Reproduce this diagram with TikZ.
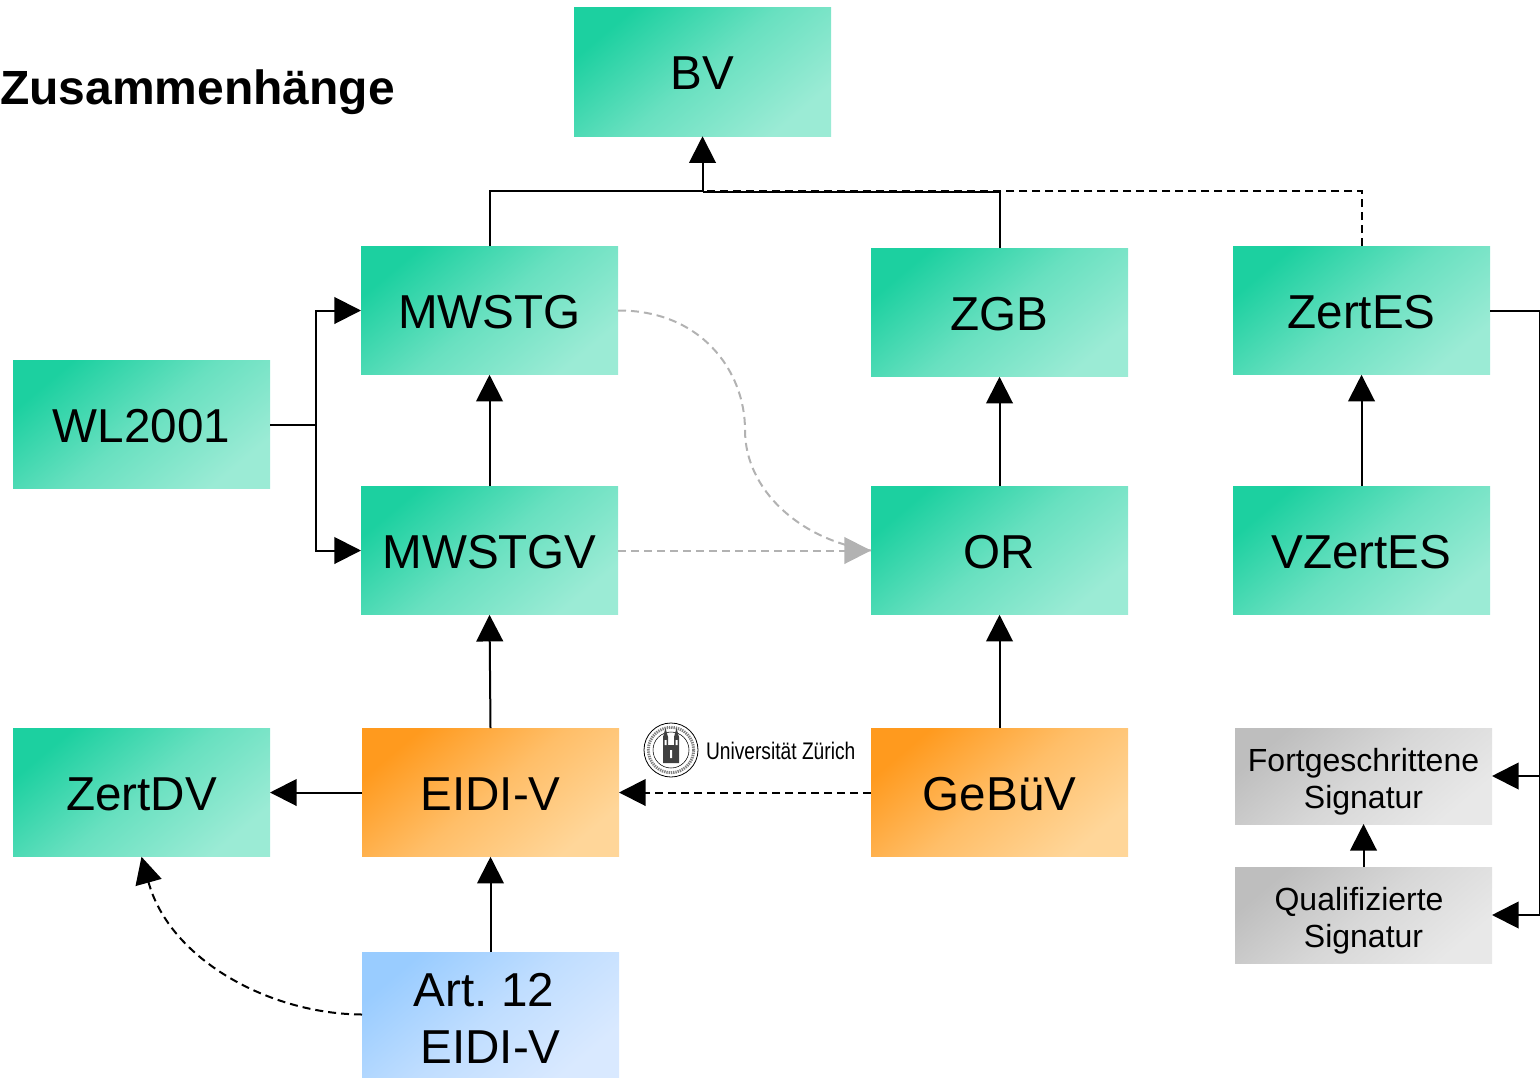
\documentclass[tikz,border=0pt]{standalone}
\usepackage{fontspec}
\setmainfont{Liberation Sans}
\usetikzlibrary{arrows.meta,positioning}
\definecolor{greenA}{HTML}{1CD0A0}
\definecolor{greenB}{HTML}{9BEBD5}
\definecolor{orangeA}{HTML}{FF9A1E}
\definecolor{orangeB}{HTML}{FFD699}
\definecolor{blueA}{HTML}{99CCFF}
\definecolor{blueB}{HTML}{D9E9FF}
\definecolor{grayA}{HTML}{BEBEBE}
\definecolor{grayB}{HTML}{E8E8E8}
\definecolor{grayLine}{HTML}{B2B2B2}
\tikzset{
	lawbox/.style={minimum width=192.75pt,minimum height=96.4pt,text height=27pt,font=\fontsize{35.7}{42.75}\selectfont},
	greenbox/.style={lawbox,top color=greenA,bottom color=greenB,middle color=greenA!40!greenB,shading angle=40},
	orangebox/.style={lawbox,top color=orangeA,bottom color=orangeB,middle color=orangeA!40!orangeB,shading angle=40},
	bluebox/.style={lawbox,minimum height=93.75pt,text height=72.8pt,top color=blueA,bottom color=blueB,middle color=blueA!40!blueB,shading angle=40},
	graybox/.style={lawbox,minimum height=72pt,text height=53.5pt,font=\fontsize{24}{27.75}\selectfont,top color=grayA,bottom color=grayB,middle color=grayA!40!grayB,shading angle=40},
	bigtip/.style={-{Triangle[length=20pt,width=20pt]}},
	dashline/.style={line width=1.5pt,dash pattern=on 6pt off 3.75pt}
}
\begin{document}
\begin{tikzpicture}[x=0.75pt,y=-0.75pt,% everything is measured in pixels of the original
				every node/.style={
					align=center,	% use this so that the "\\" for line break works
					inner sep=0pt,
					outer sep=0pt
				},
				every edge/.style={draw,line width=1.5pt}
			]
			\useasboundingbox (0,0) rectangle (1540,1077);
			\node[anchor=west,font=\fontsize{36}{36}\selectfont\bfseries](Title) at (0,92){Zusammenhänge};
			\node[greenbox](BV) at (702.5,72){BV};
			\node[greenbox](MWSTG) at (489.5,310.5){MWSTG};
			\node[greenbox](ZGB) at (999.5,312.5){ZGB};
			\node[greenbox](ZertES) at (1361.5,310.5){ZertES};
			\node[greenbox](WL) at (141.5,424.5){WL2001};
			\node[greenbox](MWSTGV) at (489.5,550.5){MWSTGV};
			\node[greenbox](OR) at (999.5,550.5){OR};
			\node[greenbox](VZertES) at (1361.5,550.5){VZertES};
			\node[greenbox](ZertDV) at (141.5,792.5){ZertDV};
			\node[orangebox](EIDI) at (490.5,792.5){EIDI-V};
			\node[orangebox](GeBuV) at (999.5,792.5){GeBüV};
			\node[bluebox](Art) at (490.5,1014.5){Art.\hspace{-.08em} 12\kern.28em\\EIDI-V};
			\node[graybox](Fort) at (1363.5,776){Fortgeschrittene\\Signatur};
			\node[graybox](Qual) at (1363.5,915){Qualifizierte\kern.28em\\Signatur};
			% logo
			\node[circle,draw,line width=.6pt,minimum size=40.5pt](Seal) at (671,750){};
			\node[circle,draw,gray,line width=2.2pt,dash pattern=on 1pt off .7pt,minimum size=34pt] at (Seal){};
			\node[circle,draw,line width=.4pt,minimum size=27pt] at (Seal){};
			\fill[black!75] (663,763) -- (663,737) -- (665.5,728) -- (668,737) -- (668,745) -- (674,745) -- (674,737) -- (676.5,728) -- (679,737) -- (679,763) -- cycle;
			\fill[white] (664.5,740) rectangle (666.5,745) (675.5,740) rectangle (677.5,745) (670,750) rectangle (672,758);
			\node[anchor=west,xscale=.8,font=\fontsize{18}{18}\selectfont](LogoText) at (706,751){Universität Zürich};
			% connectors
			\coordinate (Top) at (702.5,191);
			\coordinate (TopRight) at (702.5,192);
			\coordinate (TopDash) at (702.5,190.5);
			\coordinate (RightTurn) at (1539.5,310.5);
			\coordinate (Fork) at (316,424.5);
			\draw[dashline] (ZertES.north) |- (TopDash);
			\draw[line width=1.5pt] (MWSTG.north) |- (Top);
			\draw[line width=1.5pt] (ZGB.north) |- (TopRight);
			\draw[line width=1.5pt] (WL.east) -- (Fork);
			\draw[line width=1.5pt,bigtip] (Fork) |- (MWSTG.west);
			\draw[line width=1.5pt,bigtip] (Fork) |- (MWSTGV.west);
			\draw[line width=1.5pt] (ZertES.east) -- (RightTurn);
			\draw[line width=1.5pt,bigtip] (RightTurn) |- (Fort.east);
			\draw[line width=1.5pt,bigtip] (RightTurn) |- (Qual.east);
			\path[bigtip]
			(TopRight)edge (BV.south)
			(MWSTGV)edge (MWSTG)
			(EIDI.north)edge (MWSTGV.south)
			(EIDI)edge (ZertDV)
			(Art)edge (EIDI)
			(GeBuV)edge (OR)
			(OR)edge (ZGB)
			(VZertES)edge (ZertES)
			(Qual)edge (Fort)
			;
			\draw[dashline,bigtip] (GeBuV.west) -- (EIDI.east);
			\draw[dashline,bigtip] (Art.west) .. controls (270,1014) and (170,960) .. (ZertDV.south);
			\draw[dashline,grayLine,bigtip] (MWSTGV.east) -- (OR.west);
			\draw[dashline,grayLine] (MWSTG.east) .. controls (700,310) and (745,370) .. (745,430) .. controls (745,490) and (800,540) .. (OR.west);
		\end{tikzpicture}
\end{document}
